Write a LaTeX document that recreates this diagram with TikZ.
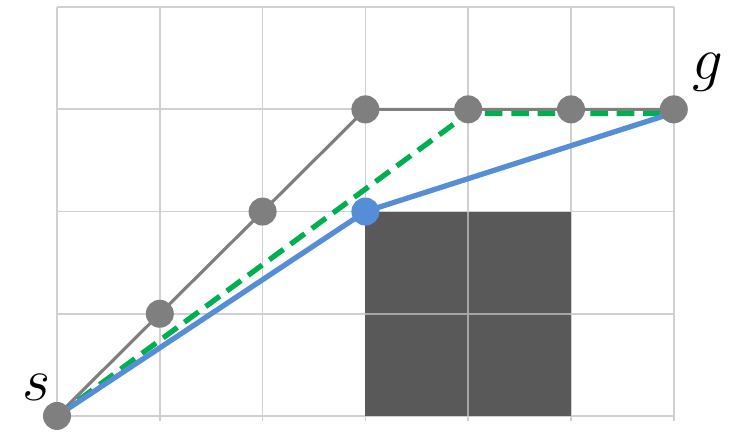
\documentclass[tikz,border=0pt]{standalone}
\usepackage{tikz}
\definecolor{gridgrey}{RGB}{208,208,208}
\definecolor{obst}{RGB}{89,89,89}
\definecolor{pathgrey}{RGB}{127,127,127}
\definecolor{gron}{RGB}{0,176,80}
\definecolor{bla}{RGB}{85,141,214}

\begin{document}
\begin{tikzpicture}[x=1.028cm,y=1.022cm,
  dot/.style={circle,fill=pathgrey,inner sep=0pt,minimum size=0.28cm},
  bluedot/.style={dot,fill=bla},
  lbl/.style={font=\fontsize{17}{17}\selectfont}]
\useasboundingbox (-0.5545,-0.225) rectangle (6.605,4.07);
% grid and obstacle
\foreach \i in {0,...,6}
  \draw[gridgrey,line width=0.5pt] (\i,-0.05) -- (\i,4);
\foreach \j in {0,...,4}
  \draw[gridgrey,line width=0.5pt] (0,\j) -- (6,\j);
\fill[obst] (3,0) rectangle (5,2);
\draw[gray!70,line width=0.5pt] (4,0) -- (4,2);
\draw[gray!70,line width=0.5pt] (3,1) -- (5,1);
% points
\coordinate (s) at (0,0);
\coordinate (p1) at (1,1);
\coordinate (p2) at (2,2);
\coordinate (p3) at (3,3);
\coordinate (p4) at (4,3);
\coordinate (p5) at (5,3);
\coordinate (g) at (6,3);
\coordinate (m) at (3,2);
\coordinate (c1) at (4,2.96);
\coordinate (c2) at (5.98,2.96);
% paths
\draw[pathgrey,line width=0.9pt] (s) -- (p1) -- (p2) -- (p3) -- (p4) -- (p5) -- (g);
\draw[gron,line width=1.5pt,dash pattern=on 5pt off 2.5pt] (s) -- (c1) -- (c2);
\draw[bla,line width=1.5pt] (s) -- (m) -- (c2);
% nodes
\node[dot] (ns) at (s) {};
\node[dot] (n1) at (p1) {};
\node[dot] (n2) at (p2) {};
\node[dot] (n3) at (p3) {};
\node[dot] (n4) at (p4) {};
\node[dot] (n5) at (p5) {};
\node[dot] (ng) at (g) {};
\node[bluedot] (nm) at (m) {};
\node[lbl] (ls) at (-0.2,0.28) {$s$};
\node[lbl] (lg) at (6.33,3.36) {$g$};
\end{tikzpicture}
\end{document}
